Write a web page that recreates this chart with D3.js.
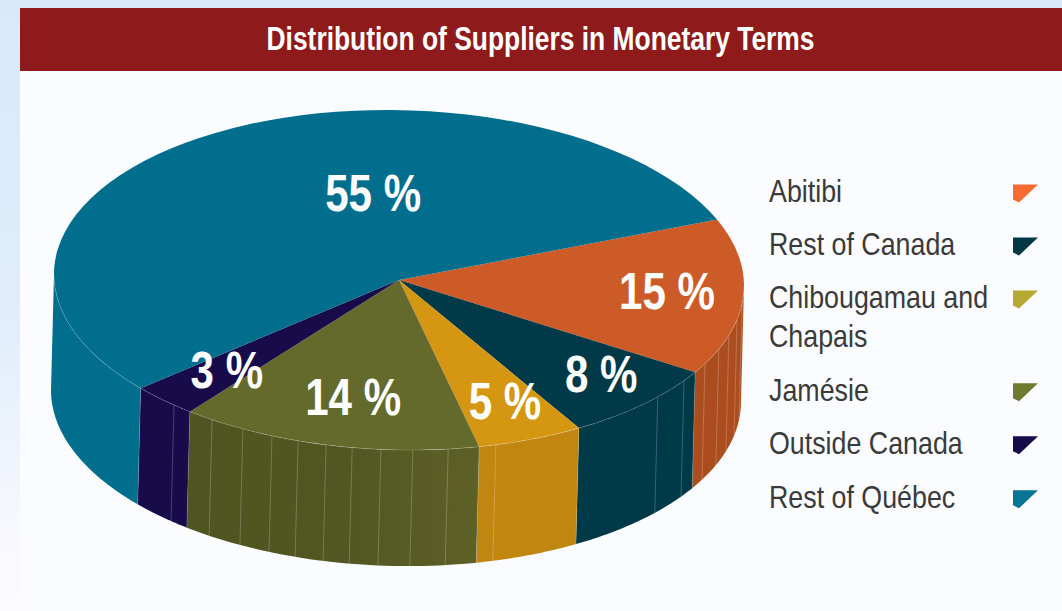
<!DOCTYPE html>
<html>
<head>
<meta charset="utf-8">
<script src="https://cdn.jsdelivr.net/npm/d3@7"></script>
<style>
  html, body { margin: 0; padding: 0; background: #ffffff; overflow: hidden; }
  svg { display: block; font-family: "Liberation Sans", sans-serif; }
</style>
</head>
<body>
<svg id="chart" width="1062" height="611"></svg>
<script>
// Chart data
var title = "Distribution of Suppliers in Monetary Terms";
var categories = ["Abitibi", "Rest of Canada", "Chibougamau and Chapais", "Jamésie", "Outside Canada", "Rest of Québec"];
var legendLines = [["Abitibi"], ["Rest of Canada"], ["Chibougamau and", "Chapais"], ["Jamésie"], ["Outside Canada"], ["Rest of Québec"]];
var shares = [14.9, 7.7, 5.0, 14.1, 3.1, 55.2];

// Colours
var topColors = ["#cd5b28", "#003947", "#d59612", "#646a2b", "#170b49", "#026e8d"];
var wallColors = ["#ab4d1f", "#003947", "#c1860f", "url(#oliveWall)", "#170b49", "#006e8c"];
var legendColors = ["#f56b30", "#013845", "#b5a833", "#707a30", "#170b49", "#067594"];

// Seams on the pie wall, degrees clockwise from 12 o'clock
var seamAngles = [96, 101.5, 107, 112, 117.5, 124.3, 131.4, 163.7, 171.8, 177.7, 183, 187.8, 192.2, 197, 201.6, 206.9, 212.8, 220.7];
// Label anchors in ellipse units (-1..1)
var labelAnchors = [[0.777, 0.171], [0.586, 0.659], [0.307, 0.818], [-0.133, 0.794], [-0.499, 0.635], [-0.075, -0.406]];

var svg = d3.select("#chart");
var toRad = Math.PI / 180;

// Ellipse of the pie top, it leans down slightly to the right
var rx = 345, ry = 170, cx = 399, cy = 280, lean = 0.017;
var depth = 116, shift = -3;   // wall height and small left slant
var x = d3.scaleLinear().domain([-1, 1]).range([cx - rx, cx + rx]);
var y = d3.scaleLinear().domain([-1, 1]).range([cy - ry, cy + ry]);

function topPoint(a) {
    var px = x(Math.sin(a));
    return [px, y(-Math.cos(a)) + lean * (px - cx)];
}
function bottomPoint(a) {
    var p = topPoint(a);
    return [p[0] + shift, p[1] + depth];
}

// Squeezed text, the narrow face is not installed
function placeText(sel, px, py, squeeze) {
    sel.attr("transform", "translate(" + px + ", " + py + ") scale(" + squeeze + ", 1)");
}

// Gradients for the page strip and the olive wall
var defs = svg.append("defs");
var strip = defs.append("linearGradient").attr("id", "pageStrip")
    .attr("x1", 0).attr("y1", 0).attr("x2", 0).attr("y2", 1);
[[0, "#d8e9fb"], [0.5, "#dfedfb"], [0.72, "#edf3fc"], [0.85, "#f7f7fe"], [1, "#fcfcfe"]].forEach(function(s) {
    strip.append("stop").attr("offset", s[0]).attr("stop-color", s[1]);
});
var olive = defs.append("linearGradient").attr("id", "oliveWall")
    .attr("x1", 0).attr("y1", 0).attr("x2", 1).attr("y2", 0);
[[0, "#505420"], [0.55, "#525621"], [1, "#5d6127"]].forEach(function(s) {
    olive.append("stop").attr("offset", s[0]).attr("stop-color", s[1]);
});

// Page background
svg.append("rect").attr("width", 1062).attr("height", 611).attr("fill", "url(#pageStrip)");
svg.append("rect").attr("x", 20).attr("y", 8).attr("width", 1042).attr("height", 603).attr("fill", "#fbfcff");
svg.append("rect").attr("x", 20).attr("y", 8).attr("width", 1042).attr("height", 63).attr("fill", "#8e1a1b");
svg.append("text")
    .call(placeText, 540.5, 50, 0.8)
    .attr("text-anchor", "middle")
    .attr("font-size", 33).attr("font-weight", "bold")
    .attr("fill", "#ffffff")
    .text(title);

var arcs = d3.pie().sort(null).value(d => d).startAngle(67.2 * toRad).endAngle(427.2 * toRad)(shares);

// Walls, only the part facing the viewer
var line = d3.line();
function wallPath(d) {
    var a0 = Math.max(d.startAngle, 90 * toRad), a1 = Math.min(d.endAngle, 270 * toRad);
    if (a1 <= a0) return null;
    var steps = d3.range(0, 41).map(i => a0 + (a1 - a0) * i / 40);
    return line(steps.map(topPoint).concat(steps.slice().reverse().map(bottomPoint))) + "Z";
}

var walls = svg.append("g").classed("walls", true);
walls.selectAll("path")
    .data(arcs)
    .enter()
    .append("path")
    .attr("d", wallPath)
    .attr("fill", (d, i) => wallColors[i]);

walls.selectAll("line.seam")
    .data(seamAngles)
    .enter()
    .append("line")
    .classed("seam", true)
    .attr("x1", d => topPoint(d * toRad)[0])
    .attr("y1", d => topPoint(d * toRad)[1])
    .attr("x2", d => bottomPoint(d * toRad)[0])
    .attr("y2", d => bottomPoint(d * toRad)[1])
    .attr("stroke", "#ffffff")
    .attr("stroke-opacity", 0.28)
    .attr("stroke-width", 0.8);

// Left edge of each wall, a thin lighter seam
walls.selectAll("line.edge")
    .data(arcs.filter(d => d.startAngle >= 90 * toRad && d.startAngle <= 270 * toRad))
    .enter()
    .append("line")
    .classed("edge", true)
    .attr("x1", d => topPoint(d.startAngle)[0])
    .attr("y1", d => topPoint(d.startAngle)[1])
    .attr("x2", d => bottomPoint(d.startAngle)[0])
    .attr("y2", d => bottomPoint(d.startAngle)[1])
    .attr("stroke", "#ffffff")
    .attr("stroke-opacity", 0.3)
    .attr("stroke-width", 0.6);

// Pie top
var arc = d3.arc().innerRadius(0).outerRadius(rx);
var topG = svg.append("g")
    .attr("transform", "matrix(1, " + lean + ", 0, " + (ry / rx) + ", " + cx + ", " + cy + ")");
topG.selectAll("path")
    .data(arcs)
    .enter()
    .append("path")
    .attr("d", arc)
    .attr("fill", (d, i) => topColors[i]);

// Light rim along the front of the top
svg.append("path")
    .attr("d", line(d3.range(90, 271, 2).map(a => topPoint(a * toRad))))
    .attr("fill", "none")
    .attr("stroke", "#ffffff")
    .attr("stroke-opacity", 0.2)
    .attr("stroke-width", 0.7);

// Percent labels
svg.append("g").selectAll("text")
    .data(arcs)
    .enter()
    .append("text")
    .each(function(d, i) {
        d3.select(this).call(placeText, x(labelAnchors[i][0]), y(labelAnchors[i][1]), 0.825);
    })
    .attr("text-anchor", "middle")
    .attr("font-size", 51).attr("font-weight", "bold")
    .attr("fill", "#ffffff")
    .text(d => Math.round(d.data) + " %");

// Legend
var legendRows = [0, 1, 2, 3.75, 4.75, 5.77];
var legendY = d3.scaleLinear().domain([0, 1]).range([202, 255]);
var legend = svg.append("g").selectAll("g")
    .data(categories)
    .enter()
    .append("g")
    .attr("transform", (d, i) => "translate(769, " + legendY(legendRows[i]) + ")");

legend.append("text")
    .attr("transform", "scale(0.865, 1)")
    .attr("fill", "#3a3a3a")
    .attr("font-size", 31)
    .selectAll("tspan")
    .data((d, i) => legendLines[i])
    .enter()
    .append("tspan")
    .attr("x", 0)
    .attr("dy", (d, i) => i ? 39 : 0)
    .text(d => d);

legend.append("path")
    .attr("d", "M244,-17.5 L269,-17.5 L250,0.5 L244,-2.5 Z")
    .attr("fill", (d, i) => legendColors[i]);
</script>
</body>
</html>
